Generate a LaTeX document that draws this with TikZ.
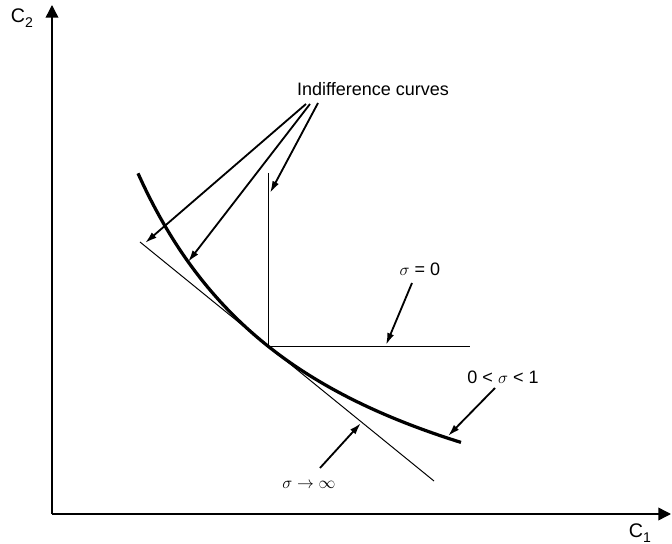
\documentclass[tikz,border=0pt]{standalone}
\usepackage{fontspec}
\setmainfont{Liberation Sans}
\usetikzlibrary{arrows.meta}
\tikzset{lbl/.style={font=\fontsize{12.8}{15}\selectfont,inner sep=1pt},
  pointer/.style={line width=1.3pt,-{Latex[length=8.5pt,width=5pt]}},
  axis/.style={line width=1pt,-{Triangle[length=9pt,width=9pt]}},
  thinline/.style={line width=.7pt}}

\begin{document}
\begin{tikzpicture}[x=.025cm,y=-.025cm]
\useasboundingbox (0,0) rectangle (672,544);
\coordinate (O) at (52,514);\coordinate (ytop) at (52,5);\coordinate (xend) at (671,514);
\draw[axis] (O)--(ytop);\draw[axis] (O)--(xend);
\node[lbl,font=\fontsize{14}{16}\selectfont] (c2) at (22,18){C\raisebox{-.45ex}{\fontsize{10}{12}\selectfont 2}};
\node[lbl,font=\fontsize{14}{16}\selectfont] (c1) at (640,533){C\raisebox{-.45ex}{\fontsize{10}{12}\selectfont 1}};
% tangency point, kinked and linear cases
\coordinate (tp) at (268,346);\coordinate (vtop) at (268,173);\coordinate (hend) at (470,346);
\coordinate (ta) at (140,242);\coordinate (tb) at (434,481);
\draw[thinline] (vtop)--(tp)--(hend);
\draw[thinline] (ta)--(tb);
\draw[line width=2.3pt,domain=138:461,samples=80,smooth] plot (\x,{604-835/(0.01*(\x+56))});
% labels
\node[lbl] (ic) at (373,89){Indifference curves};
\node[lbl] (s0) at (420,269){$\sigma$ = 0};
\node[lbl] (s01) at (503,377){0 < $\sigma$ < 1};
\node[lbl] (sinf) at (309,485){$\sigma\rightarrow\infty$};
\coordinate (icA) at (306,104);\coordinate (icB) at (310,104);\coordinate (icC) at (318,103);
\coordinate (hA) at (145,243);\coordinate (hB) at (188,262);\coordinate (hC) at (270,193);
\draw[pointer] (icA)--(hA);\draw[pointer] (icB)--(hB);\draw[pointer] (icC)--(hC);
\coordinate (t0) at (412,283);\coordinate (h0) at (386,345);\draw[pointer] (t0)--(h0);
\coordinate (t01) at (495,388);\coordinate (h01) at (448,436);\draw[pointer] (t01)--(h01);
\coordinate (tinf) at (320,468);\coordinate (hinf) at (361,423);\draw[pointer] (tinf)--(hinf);
\end{tikzpicture}
\end{document}
